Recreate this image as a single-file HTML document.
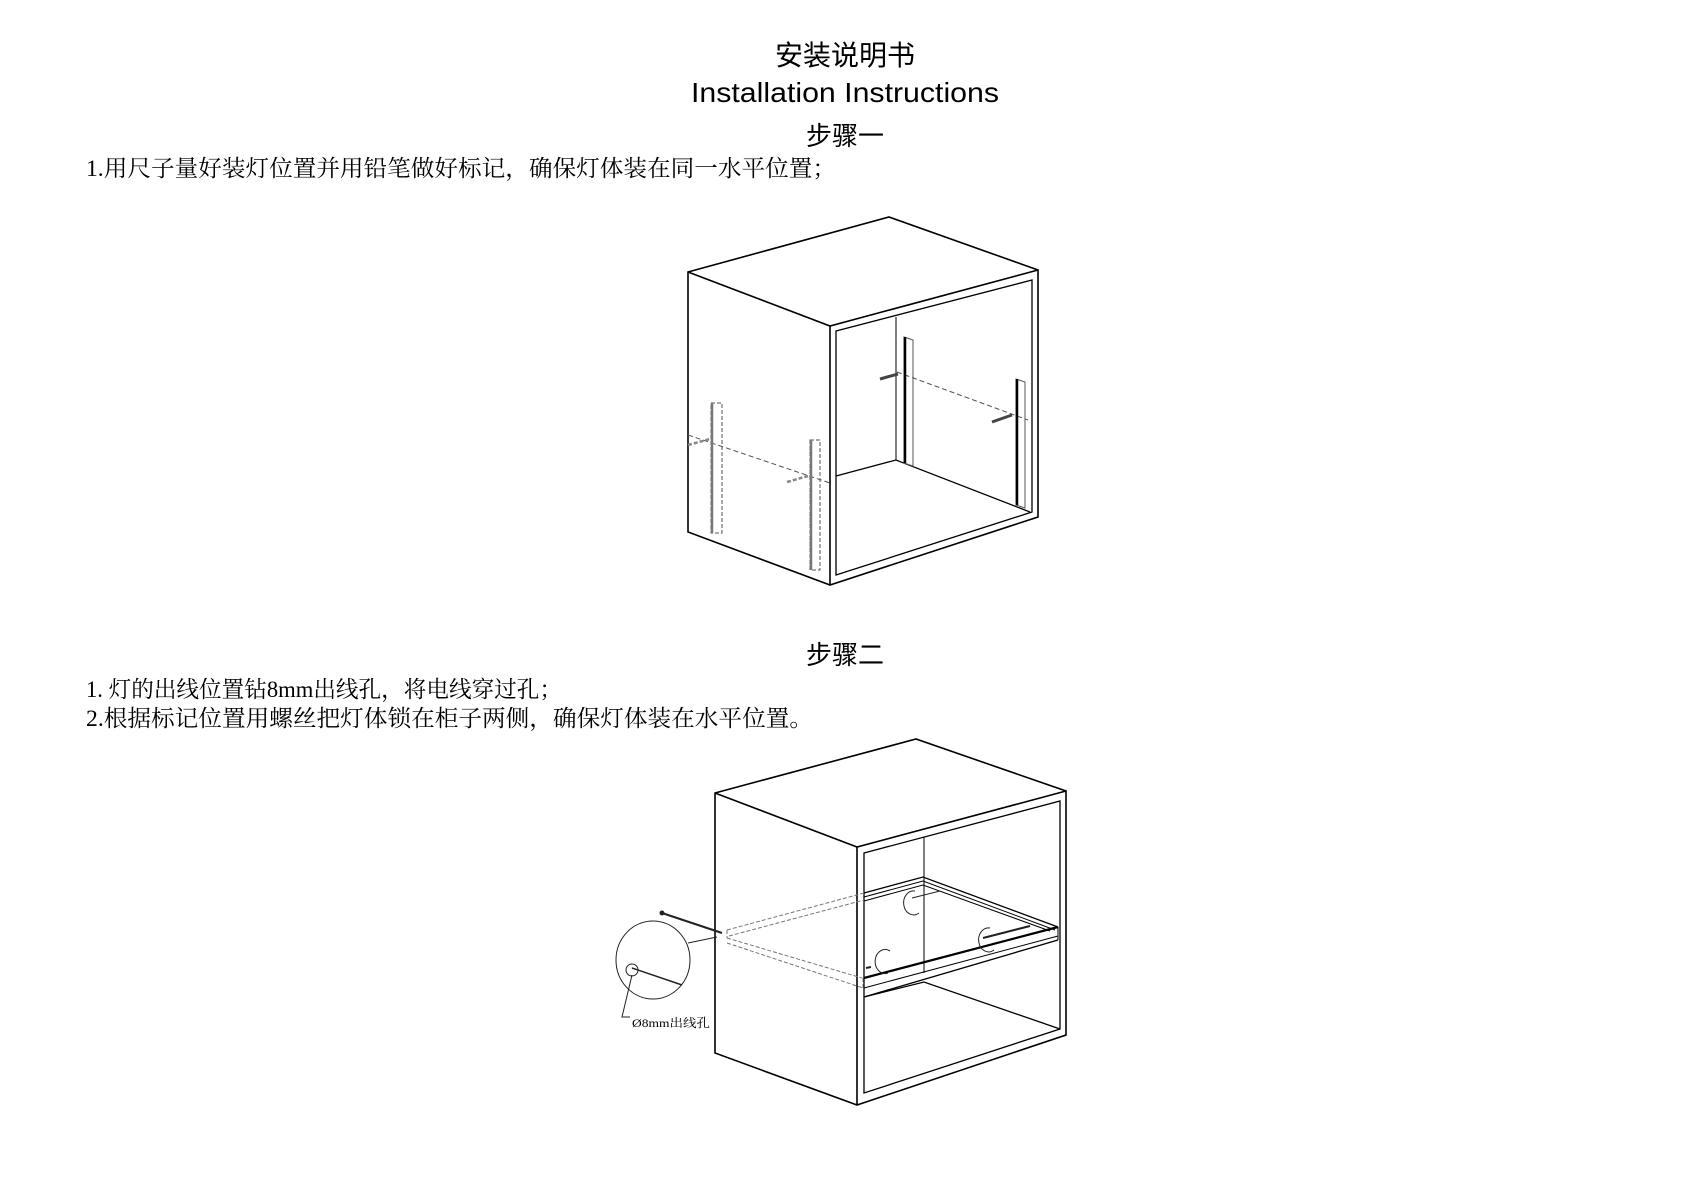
<!DOCTYPE html>
<html><head><meta charset="utf-8"><style>
html,body{margin:0;padding:0;background:#fff;}
svg{display:block;}
</style></head><body>
<svg width="1683" height="1186" viewBox="0 0 1683 1186" xmlns="http://www.w3.org/2000/svg" font-family="'Liberation Sans','Noto Sans CJK SC',sans-serif">
<rect width="1683" height="1186" fill="#fff"/>
<g fill="#000">
<text x="845" y="65" font-size="28" text-anchor="middle">安装说明书</text>
<text x="691" y="102" font-size="28" textLength="308" lengthAdjust="spacingAndGlyphs">Installation Instructions</text>
<text x="845" y="145" font-size="26" text-anchor="middle">步骤一</text>
<text x="86" y="176" font-size="23" font-family="'Liberation Serif','Noto Serif CJK SC',serif" textLength="750" lengthAdjust="spacingAndGlyphs">1.用尺子量好装灯位置并用铅笔做好标记，确保灯体装在同一水平位置；</text>
<text x="845" y="664" font-size="26" text-anchor="middle">步骤二</text>
<text x="86" y="697" font-size="23" font-family="'Liberation Serif','Noto Serif CJK SC',serif" textLength="476" lengthAdjust="spacingAndGlyphs">1. 灯的出线位置钻8mm出线孔，将电线穿过孔；</text>
<text x="86" y="726" font-size="23" font-family="'Liberation Serif','Noto Serif CJK SC',serif" textLength="727" lengthAdjust="spacingAndGlyphs">2.根据标记位置用螺丝把灯体锁在柜子两侧，确保灯体装在水平位置。</text>
<text x="632" y="1027" font-size="12" font-family="'Liberation Serif','Noto Serif CJK SC',serif" textLength="78" lengthAdjust="spacingAndGlyphs">Ø8mm出线孔</text>
</g>

<!-- Cube 1 -->
<g fill="none" stroke="#000" stroke-width="1.6">
<polygon points="688,272 889,217 1038,270 1038,517 830,585 688,532"/>
<polyline points="688,272 830,326 1038,270"/>
<line x1="830" y1="326" x2="830" y2="585"/>
<polygon points="836,331 1032,280 1032,512 836,575" stroke-width="1.3"/>
<line x1="896" y1="317" x2="896" y2="460" stroke-width="1"/>
<polyline points="836,476 896,460 1030,512" stroke-width="1.3"/>
</g>
<g stroke="#555" stroke-width="1" fill="none">
<line x1="688" y1="435" x2="830" y2="483" stroke-dasharray="5,3"/>
<line x1="897" y1="372" x2="1028" y2="420" stroke-dasharray="5,3"/>
<rect x="711" y="403" width="11" height="130" stroke-dasharray="4,2"/>
<rect x="810" y="440" width="10" height="130" stroke-dasharray="4,2"/>
<line x1="712" y1="403" x2="712" y2="533" stroke-width="2.5" stroke="#777"/>
<line x1="811" y1="440" x2="811" y2="570" stroke-width="2.5" stroke="#777"/>
<line x1="688" y1="445" x2="710" y2="439" stroke-width="2.5" stroke-dasharray="4,2" stroke="#888"/>
<line x1="787" y1="482" x2="808" y2="476" stroke-width="2.5" stroke-dasharray="4,2" stroke="#888"/>
<polygon points="904,337 913,340 913,466 904,463"/>
<polygon points="1016,379 1025,382 1025,508 1016,505"/>
</g>
<g stroke="#000">
<line x1="905" y1="337" x2="905" y2="463" stroke-width="2.5"/>
<line x1="1017" y1="379" x2="1017" y2="505" stroke-width="2.5"/>
<line x1="880" y1="379" x2="898" y2="374" stroke-width="3" stroke="#444"/>
<line x1="992" y1="422" x2="1012" y2="415" stroke-width="3" stroke="#444"/>
</g>

<!-- Cube 2 -->
<g fill="none" stroke="#000" stroke-width="1.6">
<polygon points="715,793 916,739 1066,791 1066,1035 857,1105 715,1053"/>
<polyline points="715,793 857,847 1066,791"/>
<line x1="857" y1="847" x2="857" y2="1105"/>
<polygon points="864,853 1060,801 1060,1029 864,1093" stroke-width="1.3"/>
<line x1="924" y1="837" x2="924" y2="973" stroke-width="1"/>
<polyline points="864,997 924,982 1060,1029" stroke-width="1.3"/>
<line x1="864" y1="978" x2="1058" y2="927" stroke-width="2.2"/>
<line x1="864" y1="988" x2="1058" y2="936" stroke-width="1"/>
<line x1="864" y1="997" x2="1058" y2="940" stroke-width="1.3"/>
<line x1="1058" y1="927" x2="1058" y2="940" stroke-width="1"/>
<polyline points="864,893 923,877 1058,927" stroke-width="1.3"/>
<polyline points="864,897 923,881 1055,930" stroke-width="1"/>
<polyline points="864,901 923,885 1050,931" stroke-width="1"/>
</g>
<g fill="none" stroke="#777" stroke-width="1" stroke-dasharray="4,2">
<line x1="727" y1="930" x2="864" y2="893"/>
<line x1="729" y1="936" x2="864" y2="900"/>
<line x1="727" y1="938" x2="862" y2="978"/>
<line x1="727" y1="930" x2="727" y2="938"/>
<line x1="727" y1="943" x2="863" y2="988"/>
<line x1="863" y1="978" x2="863" y2="988"/>
</g>
<g fill="none" stroke="#222">
<line x1="662" y1="913" x2="722" y2="933" stroke-width="2"/>
<circle cx="662" cy="913" r="2" fill="#222"/>
<ellipse cx="653" cy="960" rx="37" ry="39" stroke-width="1"/>
<line x1="688" y1="943" x2="717" y2="937" stroke-width="1"/>
<circle cx="632" cy="970" r="6" stroke-width="1"/>
<line x1="632" y1="968" x2="682" y2="985" stroke-width="1.5"/>
<polyline points="632,975 622,1017 630,1017" stroke-width="1"/>
<path d="M915,891 a10,12 0 1,0 4,22" stroke-width="1"/>
<line x1="912" y1="898" x2="940" y2="891" stroke-width="1"/>
<path d="M990,928 a10,12 0 1,0 4,22" stroke-width="1"/>
<line x1="983" y1="938" x2="1030" y2="926" stroke-width="2"/>
<path d="M890,951 a10,12 0 1,0 -2,22" stroke-width="1"/>
<line x1="866" y1="968" x2="871" y2="967" stroke-width="2"/>
</g>
</svg>
</body></html>
